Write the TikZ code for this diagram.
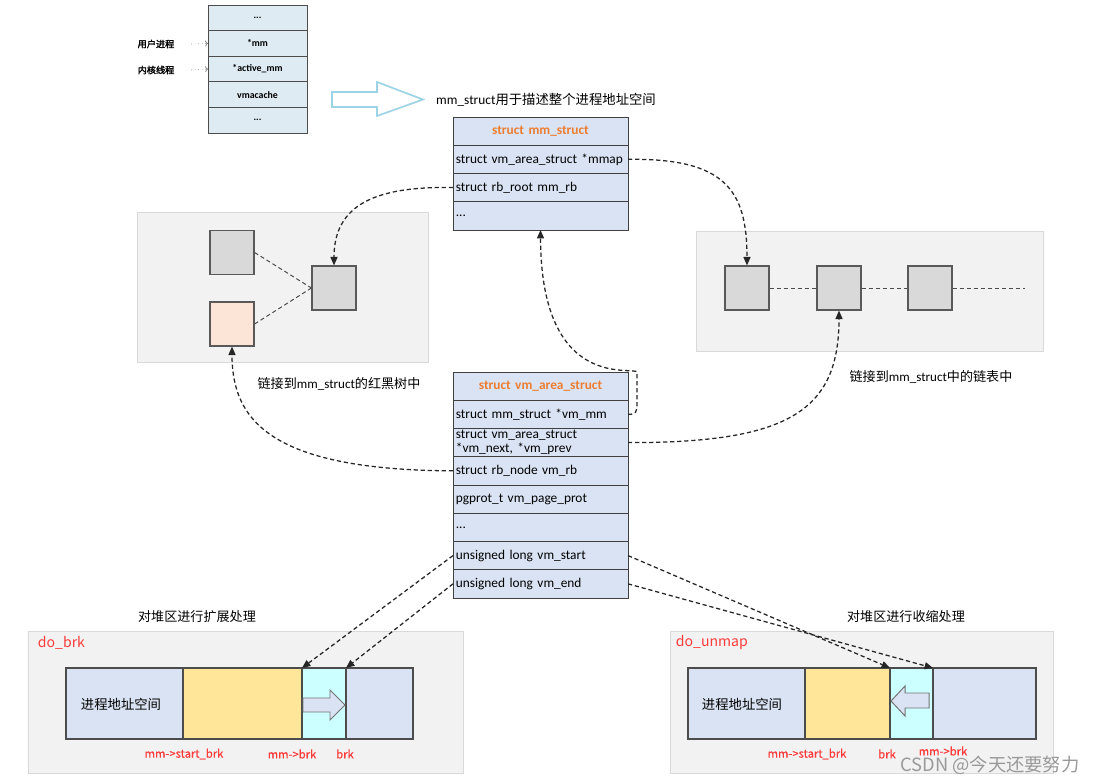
\documentclass[tikz,border=0pt]{standalone}
\usepackage{fontspec}
\setmainfont{Carlito}
\newfontfamily\cjk{Noto Sans CJK SC}
\newfontfamily\cjkbold[FakeBold=2]{Noto Sans CJK SC}
\newfontfamily\cjkmed[FakeBold=0.6]{Noto Sans CJK SC}
\usetikzlibrary{positioning,arrows.meta}

\definecolor{rowblue}{HTML}{DAE3F3}
\definecolor{taskblue}{HTML}{DEEBF3}
\definecolor{titleorange}{HTML}{ED7D31}
\definecolor{panelgray}{HTML}{F2F2F2}
\definecolor{paneledge}{HTML}{D9D9D9}
\definecolor{sqgray}{HTML}{D9D9D9}
\definecolor{sqpeach}{HTML}{FCE4D6}
\definecolor{heapyellow}{HTML}{FFE699}
\definecolor{growcyan}{HTML}{CCFFFF}
\definecolor{hollowblue}{HTML}{9DD3E6}
\definecolor{labelred}{HTML}{FF3B3B}

\begin{document}
\begin{tikzpicture}[
    x=0.025cm, y=-0.025cm,
    font=\fontsize{9.5}{10}\selectfont,
    % struct field rows, all the same size
    row/.style={draw=black!75, fill=rowblue, line width=0.6pt, outer sep=0pt,
                minimum width=4.375cm, minimum height=0.706cm,
                text width=4.23cm, inner xsep=2pt, inner ysep=0pt, align=left},
    title/.style={row, align=center, text=titleorange,
                  font=\fontsize{9.5}{10}\selectfont\bfseries},
    taskrow/.style={draw=black!70, fill=taskblue, line width=0.6pt, outer sep=0pt,
                    minimum width=2.475cm, minimum height=0.64cm, inner sep=0pt,
                    font=\fontsize{7}{8}\selectfont\bfseries},
    tinylbl/.style={font=\cjkbold\fontsize{6.5}{7}\selectfont},
    % background panels and the boxes in them
    panel/.style={draw=paneledge, fill=panelgray, line width=0.6pt},
    sq/.style={draw=black!65, fill=sqgray, line width=0.8pt, minimum size=1.1cm},
    seg/.style={draw=black!70, line width=0.8pt, minimum height=1.775cm,
                inner sep=0pt, outer sep=0pt},
    % texts
    zh/.style={font=\cjk\fontsize{9.3}{10}\selectfont},
    fnname/.style={text=labelred, font=\cjk\fontsize{10}{11}\selectfont},
    ptr/.style={text=labelred, font=\cjkmed\fontsize{8}{9}\selectfont},
    % connectors
    link/.style={dash pattern=on 3pt off 2pt, line width=0.9pt, draw=black!85,
                 -{Triangle[length=6pt,width=5pt]}},
    tie/.style={dash pattern=on 3pt off 2pt, line width=0.7pt, draw=black!70},
    dotarr/.style={dotted, draw=black!50, line width=0.5pt, -{To[length=2pt]}},
    hollow/.style={draw=hollowblue, line width=1.2pt, fill=white},
    barrow/.style={draw=black!55, line width=0.7pt, fill=rowblue},
]
\useasboundingbox (0,0) rectangle (1100,782);

%% ── task_struct fragment ──
\node[taskrow] (t1) at (257.5,17.8) {...};
\node[taskrow, below=0pt of t1] (tmm) {*mm};
\node[taskrow, below=0pt of tmm] (tactive) {*active\_mm};
\node[taskrow, below=0pt of tactive] (tcache) {vmacache};
\node[taskrow, below=0pt of tcache] (t5) {...};
\node[tinylbl] (user) at (156,44) {用户进程};
\node[tinylbl] (kern) at (156,70) {内核线程};
\draw[dotarr] ([xshift=0.3cm]user.east) -- (tmm.west);
\draw[dotarr] ([xshift=0.3cm]kern.east) -- (tactive.west);

% big hollow arrow
\draw[hollow] (332,92) -- (377,92) -- (377,82) -- (423,99.5) -- (377,116)
              -- (377,107) -- (332,107) -- cycle;
\node (mmcap) at (546,100) {mm\_struct{\cjk 用于描述整个进程地址空间}};

%% ── struct mm_struct ──
\node[title] (mmtitle) at (540.5,131.1) {struct mm\_struct};
\node[row, below=0pt of mmtitle] (mmap) {struct vm\_area\_struct *mmap};
\node[row, below=0pt of mmap] (mmrb) {struct rb\_root mm\_rb};
\node[row, below=0pt of mmrb] (mmdots) {...};

%% ── red-black tree panel ──
\node[panel, minimum width=7.275cm, minimum height=3.75cm] (treepnl) at (282.5,287) {};
\node[sq] (ta) at (232,252.5) {};
\node[sq, fill=sqpeach] (tb) at (232,324) {};
\node[sq] (tc) at (334,288) {};
\draw[tie] (ta.east) -- (tc.west);
\draw[tie] (tb.east) -- (tc.west);
\node[zh] (treecap) at (339,384) {链接到{\fontspec{Carlito}mm\_struct}的红黑树中};

%% ── linked list panel ──
\node[panel, minimum width=8.675cm, minimum height=3.0cm] (listpnl) at (869.5,291) {};
\node[sq] (la) at (747,288) {};
\node[sq] (lb) at (839,288) {};
\node[sq] (lc) at (930,288) {};
\coordinate (lend) at (1025,288);
\draw[tie] (la.east) -- (lb.west);
\draw[tie] (lb.east) -- (lc.west);
\draw[tie] (lc.east) -- (lend);
\node[zh] (listcap) at (931,377) {链接到{\fontspec{Carlito}mm\_struct}中的链表中};

%% ── struct vm_area_struct ──
\node[title] (vmtitle) at (540.5,386.1) {struct vm\_area\_struct};
\node[row, below=0pt of vmtitle] (vmmm) {struct mm\_struct *vm\_mm};
\node[row, below=0pt of vmmm] (vmnext) {struct vm\_area\_struct\\{}*vm\_next, *vm\_prev};
\node[row, below=0pt of vmnext] (vmrb) {struct rb\_node vm\_rb};
\node[row, below=0pt of vmrb] (vmprot) {pgprot\_t vm\_page\_prot};
\node[row, below=0pt of vmprot] (vmdots) {...};
\node[row, below=0pt of vmdots] (vmstart) {unsigned long vm\_start};
\node[row, below=0pt of vmstart] (vmend) {unsigned long vm\_end};

%% ── do_brk panel ──
\node[panel, minimum width=10.875cm, minimum height=3.55cm] (brkpnl) at (245.5,702) {};
\node[fnname, anchor=west] (dobrk) at (33,643) {do\_brk};
\node[zh] (brkcap) at (197,617) {对堆区进行扩展处理};
\node[seg, fill=rowblue, minimum width=2.925cm] (lspace) at (124.5,703.5) {};
\node[seg, fill=heapyellow, minimum width=2.975cm] (lheap) at (242.5,703.5) {};
\node[seg, fill=growcyan, minimum width=1.1cm] (lgrow) at (324,703.5) {};
\node[seg, fill=rowblue, minimum width=1.675cm] (lfree) at (379.5,703.5) {};
\node[zh, font=\cjk\fontsize{9.5}{10}\selectfont] (ltext) at (121,704) {进程地址空间};
\draw[barrow] (303,698) -- (330,698) -- (330,690) -- (345,705) -- (330,720)
              -- (330,712) -- (303,712) -- cycle;
\node[ptr] (lstart) at (184,754) {mm->start\_brk};
\node[ptr] (lmmbrk) at (292,754) {mm->brk};
\node[ptr] (lbrk) at (345,754) {brk};

%% ── do_unmap panel ──
\node[panel, minimum width=9.575cm, minimum height=3.55cm] (unmappnl) at (861.5,702) {};
\node[fnname, anchor=west] (dounmap) at (671,643) {do\_unmap};
\node[zh] (unmapcap) at (906,617) {对堆区进行收缩处理};
\node[seg, fill=rowblue, minimum width=2.925cm] (rspace) at (746.5,703.5) {};
\node[seg, fill=heapyellow, minimum width=2.125cm] (rheap) at (847.5,703.5) {};
\node[seg, fill=growcyan, minimum width=1.075cm] (rshrink) at (911.5,703.5) {};
\node[seg, fill=rowblue, minimum width=2.575cm] (rfree) at (984.5,703.5) {};
\node[zh, font=\cjk\fontsize{9.5}{10}\selectfont] (rtext) at (742,704) {进程地址空间};
\draw[barrow] (891,701) -- (905,686) -- (905,693) -- (929,693) -- (929,708)
              -- (905,708) -- (905,716) -- cycle;
\node[ptr] (rstart) at (807,754) {mm->start\_brk};
\node[ptr] (rbrk) at (887,754) {brk};
\node[ptr] (rmmbrk) at (943,751) {mm->brk};

%% ── dashed links ──
\draw[link] (mmap.east) .. controls (725,158) and (747,190) .. (la.north);
\draw[link] (mmrb.west) .. controls (375,186) and (334,205) .. (tc.north);
\draw[link, rounded corners=4pt] (vmmm.east) -- (637,414) -- (637,378)
      .. controls (637,365) and (541,395) .. (mmdots.south);
\draw[link] (vmnext.east) .. controls (790,443) and (839,410) .. (lb.south);
\draw[link] (vmrb.west) .. controls (270,470) and (232,420) .. (tb.south);
\draw[link] (vmstart.west) -- (lgrow.north west);
\draw[link] (vmend.west) -- (lfree.north west);
\draw[link] (vmstart.east) -- (rshrink.north west);
\draw[link] (vmend.east) -- (rfree.north west);

% watermark
\node[text=black!40, font=\cjk\fontsize{13}{14}\selectfont] (mark) at (990,765) {CSDN @今天还要努力};

\end{tikzpicture}
\end{document}
